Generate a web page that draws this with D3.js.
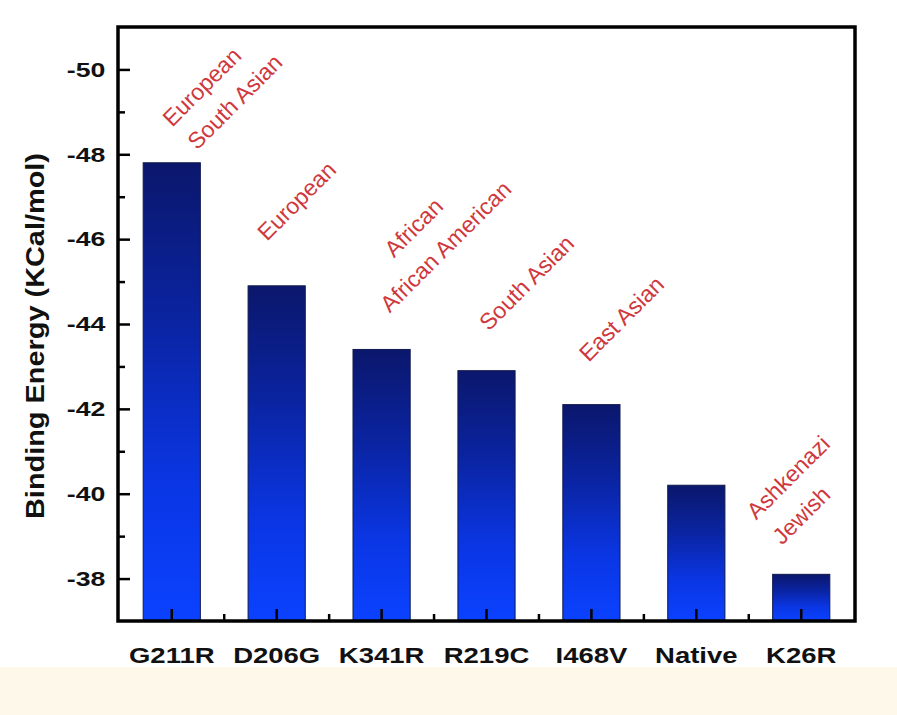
<!DOCTYPE html>
<html>
<head>
<meta charset="utf-8">
<script src="https://cdn.jsdelivr.net/npm/d3@7"></script>
<style>
  body { margin: 0; background: #ffffff; }
  svg { display: block; }
</style>
</head>
<body>
<svg id="chart" width="897" height="715"></svg>
<script>
const variants = ["G211R", "D206G", "K341R", "R219C", "I468V", "Native", "K26R"];
const bindingEnergy = [-47.8, -44.9, -43.4, -42.9, -42.1, -40.2, -38.1];
const populations = [
  ["European", "South Asian"],
  ["European"],
  ["African", "African American"],
  ["South Asian"],
  ["East Asian"],
  [],
  ["Ashkenazi", "Jewish"],
];
const yMajorTicks = [-50, -48, -46, -44, -42, -40, -38];
const yMinorTicks = [-49, -47, -45, -43, -41, -39];

// where each population line sits, relative to the top centre of its bar
const labelOffsets = [
  [[30, -76], [63, -61]],
  [[20, -85]],
  [[32, -122], [64, -103]],
  [[40, -88]],
  [[30, -86]],
  [],
  [[-13, -97], [0, -59]],
];

const data = variants.map((v, i) => ({ name: v, value: bindingEnergy[i], pops: populations[i], offs: labelOffsets[i] }));

const plotLeft = 118, plotRight = 855, plotTop = 27, plotBottom = 621;
const font = "Liberation Sans, Arial, sans-serif";

const chart = d3.select("#chart");

// pale strip under the figure
chart.append("rect")
  .attr("x", 0).attr("y", 667)
  .attr("width", 897).attr("height", 48)
  .attr("fill", "#fdf8e9");

const defs = chart.append("defs");
const grad = defs.append("linearGradient")
  .attr("id", "barGrad")
  .attr("x1", 0).attr("y1", 0).attr("x2", 0).attr("y2", 1);
grad.append("stop").attr("offset", "0%").attr("stop-color", "#0b176c");
grad.append("stop").attr("offset", "35%").attr("stop-color", "#0a24a2");
grad.append("stop").attr("offset", "70%").attr("stop-color", "#0a36e4");
grad.append("stop").attr("offset", "100%").attr("stop-color", "#0b42ff");

const xScale = d3.scaleBand()
  .domain(variants)
  .range([plotLeft, plotRight])
  .paddingInner(0.455)
  .paddingOuter(0.24);

const yScale = d3.scaleLinear()
  .domain([-37, -51])
  .range([plotBottom, plotTop]);

chart.append("g")
  .selectAll("rect")
  .data(data)
  .enter()
  .append("rect")
  .attr("x", (d) => xScale(d.name))
  .attr("y", (d) => yScale(d.value))
  .attr("width", xScale.bandwidth())
  .attr("height", (d) => yScale(-37) - yScale(d.value))
  .attr("fill", "url(#barGrad)")
  .attr("stroke", "#101a4c")
  .attr("stroke-width", 1);

// axes, ticks pointing inward
const yAxis = d3.axisLeft(yScale)
  .tickValues(yMajorTicks)
  .tickSize(-12)
  .tickPadding(10)
  .tickFormat((d) => String(d));
const yAxisG = chart.append("g").attr("transform", `translate(${plotLeft},0)`).call(yAxis);

const yMinor = d3.axisLeft(yScale).tickValues(yMinorTicks).tickSize(-7).tickFormat("");
const yMinorG = chart.append("g").attr("transform", `translate(${plotLeft},0)`).call(yMinor);

const xAxis = d3.axisBottom(xScale).tickSize(-12).tickPadding(26).tickSizeOuter(0);
const xAxisG = chart.append("g").attr("transform", `translate(0,${plotBottom})`).call(xAxis);

[yAxisG, yMinorG, xAxisG].forEach((g) => {
  g.select(".domain").remove();
  g.selectAll(".tick line").attr("stroke", "#000").attr("stroke-width", 2.5);
});

// the lettering in the figure is a bit wider than plain Arial
yAxisG.selectAll("text")
  .style("font-family", font)
  .style("font-size", "21px")
  .style("font-weight", "bold")
  .attr("fill", "#111")
  .attr("transform", "scale(1.27,1)");

xAxisG.selectAll("text")
  .style("font-family", font)
  .style("font-size", "22px")
  .style("font-weight", "bold")
  .attr("fill", "#111")
  .attr("transform", "scale(1.25,1)");

// minor x ticks between the bars
const step = xScale.step();
chart.append("g")
  .selectAll("line")
  .data(variants.slice(0, -1))
  .enter()
  .append("line")
  .attr("x1", (d) => xScale(d) + xScale.bandwidth() + (step - xScale.bandwidth()) / 2)
  .attr("x2", (d) => xScale(d) + xScale.bandwidth() + (step - xScale.bandwidth()) / 2)
  .attr("y1", plotBottom)
  .attr("y2", plotBottom - 7)
  .attr("stroke", "#000")
  .attr("stroke-width", 2.5);

// frame
chart.append("rect")
  .attr("x", plotLeft).attr("y", plotTop)
  .attr("width", plotRight - plotLeft).attr("height", plotBottom - plotTop)
  .attr("fill", "none")
  .attr("stroke", "#000")
  .attr("stroke-width", 3.5);

// population notes
const notes = [];
data.forEach((d) => {
  d.pops.forEach((p, j) => {
    notes.push({
      text: p,
      x: xScale(d.name) + xScale.bandwidth() / 2 + d.offs[j][0],
      y: yScale(d.value) + d.offs[j][1],
    });
  });
});

chart.append("g")
  .selectAll("text")
  .data(notes)
  .enter()
  .append("text")
  .attr("transform", (d) => `translate(${d.x},${d.y}) rotate(-45)`)
  .attr("text-anchor", "middle")
  .attr("dominant-baseline", "central")
  .style("font-family", font)
  .style("font-size", "23px")
  .attr("fill", "#cf383d")
  .text((d) => d.text);

chart.append("text")
  .attr("x", -336)
  .attr("y", 44)
  .attr("text-anchor", "middle")
  .attr("transform", "rotate(-90)")
  .attr("textLength", 366)
  .attr("lengthAdjust", "spacingAndGlyphs")
  .style("font-family", font)
  .style("font-size", "25px")
  .style("font-weight", "bold")
  .attr("fill", "#111")
  .text("Binding Energy (KCal/mol)");
</script>
</body>
</html>
